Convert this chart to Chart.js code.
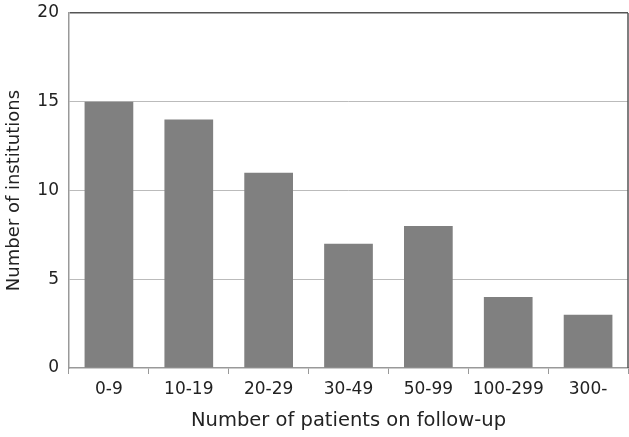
<!DOCTYPE html>
<html>
<head>
<meta charset="utf-8">
<script src="https://cdn.jsdelivr.net/npm/chart.js"></script>
<style>
  html, body { margin: 0; padding: 0; background: #fff; }
  #wrap { width: 629px; height: 437px; }
</style>
</head>
<body>
<div id="wrap"><canvas id="grafico" width="629" height="437"></canvas></div>
<script>
// dados
const categorias = ['0-9', '10-19', '20-29', '30-49', '50-99', '100-299', '300-'];
const instituicoes = [15, 14, 11, 7, 8, 4, 3];
const ticksY = [0, 5, 10, 15, 20];

const fonte = '"DejaVu Sans", Verdana, sans-serif';

// borda direita do quadro
const bordaDireita = {
  id: 'bordaDireita',
  afterDraw(chart) {
    const { ctx, chartArea } = chart;
    ctx.save();
    ctx.strokeStyle = '#555';
    ctx.lineWidth = 1.5;
    ctx.beginPath();
    ctx.moveTo(chartArea.right, chartArea.top);
    ctx.lineTo(chartArea.right, chartArea.bottom);
    ctx.stroke();
    ctx.restore();
  }
};

const ctx = document.getElementById('grafico').getContext('2d');
new Chart(ctx, {
  type: 'bar',
  data: {
    labels: categorias,
    datasets: [{
      data: instituicoes,
      backgroundColor: '#808080',
      borderWidth: 0,
      categoryPercentage: 1,
      barPercentage: 0.61
    }]
  },
  options: {
    responsive: false,
    animation: false,
    layout: { padding: { top: 13, right: 1, left: 0, bottom: 0 } },
    plugins: { legend: { display: false }, tooltip: { enabled: false } },
    scales: {
      x: {
        afterFit: s => { s.height = 69; },
        grid: {
          offset: true,
          drawOnChartArea: false,
          color: '#999',
          tickLength: 6
        },
        border: { color: '#999', width: 1.5 },
        ticks: { color: '#222', font: { family: fonte, size: 17 }, padding: 5 },
        title: {
          display: true,
          text: 'Number of patients on follow-up',
          color: '#222',
          font: { family: fonte, size: 19.5 },
          padding: { top: 7 }
        }
      },
      y: {
        min: 0,
        max: 20,
        afterFit: s => { s.width = 69; },
        afterBuildTicks: s => { s.ticks = ticksY.map(v => ({ value: v })); },
        grid: {
          drawTicks: false,
          color: c => (c.tick && c.tick.value === 20 ? '#555' : (c.tick && c.tick.value === 0 ? 'transparent' : '#bbb')),
          lineWidth: c => (c.tick && c.tick.value === 20 ? 1.5 : 1)
        },
        border: { color: '#999', width: 1.5 },
        ticks: { color: '#222', font: { family: fonte, size: 17, lineHeight: 0.3 }, padding: 10 },
        title: {
          display: true,
          text: 'Number of institutions',
          color: '#222',
          font: { family: fonte, size: 18 },
          padding: { bottom: 0 }
        }
      }
    }
  },
  plugins: [bordaDireita]
});
</script>
</body>
</html>
